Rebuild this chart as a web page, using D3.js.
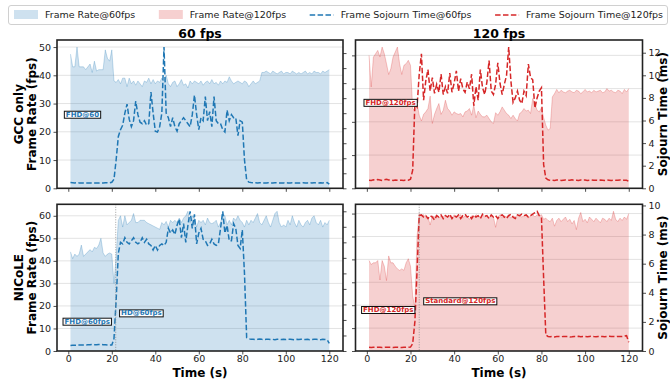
<!DOCTYPE html>
<html>
<head>
<meta charset="utf-8">
<script src="https://cdn.jsdelivr.net/npm/d3@7"></script>
<style>
  body { margin: 0; background: #fff; }
  svg { font-family: "DejaVu Sans", sans-serif; }
</style>
</head>
<body>
<div id="chart"></div>
<script>
// sample times (s)
const time = d3.range(1, 121);

// GCC only, 60 fps
const gccFps60 = [
  47.5, 43, 43, 50, 43, 43, 43, 42, 43, 44,
  41, 45, 41.5, 42, 42, 42, 49, 46, 45, 49,
  38, 37.5, 38.5, 37, 39, 39, 36, 39, 37, 38,
  36.5, 38, 37, 36, 38, 37.5, 39, 37, 38.5, 37,
  38, 37.5, 39, 38, 40, 37, 36, 37.5, 38, 36,
  37, 38.5, 36.5, 37, 35.5, 38, 37, 38, 37.5, 37,
  38, 36.5, 37.5, 38, 37, 38.5, 37, 37.5, 36.5, 38,
  37, 38, 37.5, 39.5, 38, 37, 37.5, 38, 37.5, 37,
  38, 37.5, 36, 37, 38, 37, 37.5, 38, 41, 41,
  41.5, 41, 40.5, 41.5, 41, 40.5, 41, 41.5, 40.5, 41,
  41, 40.5, 41.5, 41, 40.5, 41, 40.5, 41, 41.5, 40.5,
  41, 40.5, 41.5, 41, 41, 40.5, 41.5, 41, 41.5, 42
];
const gccSoj60 = [
  0.38, 0.37, 0.36, 0.37, 0.36, 0.35, 0.36, 0.35, 0.35, 0.36,
  0.35, 0.35, 0.35, 0.35, 0.36, 0.36, 0.37, 0.37, 0.36, 0.40,
  0.6, 1.9, 3.45, 3.9, 4.2, 5.0, 5.6, 4.6, 4.1, 4.5,
  5.8, 4.9, 4.4, 4.3, 4.5, 4.2, 4.3, 6.4, 5.0, 3.8,
  3.75, 4.1, 5.0, 9.4, 5.0, 4.7, 4.1, 4.7, 4.1, 3.8,
  4.3, 4.5, 4.7, 4.5, 4.3, 4.1, 4.9, 6.2, 4.9, 3.9,
  4.7, 4.5, 6.1, 4.5, 5.1, 4.1, 6.1, 4.5, 4.3, 4.3,
  3.9, 3.75, 5.2, 4.5, 4.9, 4.7, 4.7, 3.5, 4.5, 4.4,
  1.9, 0.56, 0.41, 0.38, 0.37, 0.37, 0.36, 0.37, 0.36, 0.36,
  0.36, 0.37, 0.36, 0.36, 0.37, 0.36, 0.36, 0.35, 0.36, 0.37,
  0.36, 0.36, 0.37, 0.36, 0.36, 0.35, 0.36, 0.37, 0.36, 0.36,
  0.37, 0.36, 0.37, 0.36, 0.36, 0.37, 0.36, 0.37, 0.38, 0.28
];

// GCC only, 120 fps
const gccFps120 = [
  80, 61, 79, 81, 83, 79, 85, 81, 75, 68.5,
  72, 79, 82, 85, 75, 68.5, 74, 75, 77, 74,
  48, 46.5, 51, 44, 40.5, 44.5, 46, 48, 55.5, 39,
  44.5, 48, 51, 44.5, 47, 53, 48, 46.5, 44, 46,
  45, 44.5, 45, 43, 46, 46.5, 48, 44, 50, 42.5,
  46.5, 44.5, 43, 43, 44, 42, 40, 39, 45.5, 44,
  46, 49, 47, 45, 44, 42, 44, 42, 40.5, 45,
  46, 48, 46.5, 47, 45, 54, 51, 47, 46, 48.5,
  42.5, 38, 35, 36, 55, 57, 59.5, 57.5, 59, 58,
  57.5, 58.5, 59, 58, 57.5, 59, 58.5, 57, 58, 59.5,
  58, 58.5, 57.5, 59, 58, 58.5, 59, 57.5, 58, 60,
  58.5, 59, 58, 57.5, 59, 58.5, 57, 59.5, 58, 60
];
const gccSoj120 = [
  0.72, 0.70, 0.75, 0.72, 0.78, 0.74, 0.70, 0.76, 0.80, 0.74,
  0.72, 0.70, 0.74, 0.72, 0.70, 0.72, 0.70, 0.74, 0.72, 0.80,
  1.6, 7.5, 7.2, 10.1, 11.9, 7.8, 9.5, 10.5, 8.6, 9.8,
  8.4, 9.2, 8.5, 10.1, 8.3, 9.0, 8.4, 10.2, 8.5, 9.3,
  10.4, 8.6, 9.7, 8.8, 8.5, 9.4, 8.8, 10.1, 7.3, 9.0,
  7.8, 10.5, 8.9, 8.3, 9.4, 11.3, 8.6, 8.3, 9.2, 11.1,
  9.3, 8.3, 9.2, 10.0, 12.5, 9.5, 7.6, 8.0, 8.6, 7.8,
  7.5, 8.6, 8.2, 11.0, 9.8, 9.6, 7.1, 8.0, 8.6, 8.9,
  2.1, 0.9, 0.75, 0.7, 0.72, 0.70, 0.74, 0.72, 0.70, 0.72,
  0.74, 0.70, 0.72, 0.75, 0.71, 0.72, 0.70, 0.74, 0.72, 0.73,
  0.70, 0.72, 0.74, 0.71, 0.72, 0.70, 0.73, 0.72, 0.70, 0.74,
  0.72, 0.70, 0.73, 0.71, 0.72, 0.74, 0.70, 0.72, 0.71, 0.62
];

// NICoLE, 60 fps
const nicFps60 = [
  44, 41, 43, 42, 43, 47, 42, 43, 44, 45,
  44, 46, 45.5, 47, 50, 43.5, 42, 43, 43.5, 43,
  30, 42, 58, 60, 55, 60, 56, 57, 58, 61,
  57, 57, 58, 58, 58, 57, 56.5, 56, 55.5, 55,
  54.5, 54, 57, 56, 57.5, 55, 58, 57, 58, 57,
  59, 57, 59, 60, 62, 57, 60, 59, 55, 58,
  57, 58, 56, 59, 57, 56.5, 57, 58, 55, 57,
  61, 60, 56, 58, 56, 59, 58, 60, 58, 57,
  55, 58, 56, 58, 57, 59, 61, 57, 56, 58,
  60, 57, 55, 58, 61, 62, 57, 55, 56, 55,
  58, 56, 60, 57, 55, 58, 56, 55, 57, 58,
  56, 59, 60, 57, 56, 58, 55, 57, 56, 58
];
const nicSoj60 = [
  0.36, 0.37, 0.37, 0.38, 0.38, 0.39, 0.39, 0.39, 0.40, 0.41,
  0.42, 0.41, 0.41, 0.42, 0.42, 0.41, 0.40, 0.39, 0.38, 0.38,
  0.8, 3.3, 6.3, 7.0, 6.9, 7.3, 7.0, 6.9, 7.1, 7.3,
  7.0, 6.9, 7.0, 7.3, 7.0, 7.2, 6.9, 6.8, 6.5, 6.8,
  6.5, 6.8, 6.9, 6.8, 7.0, 7.9, 7.6, 7.8, 7.5, 8.1,
  8.5, 7.3, 8.2, 7.0, 8.1, 9.0, 7.9, 8.8, 6.9, 7.6,
  7.9, 7.2, 7.1, 6.8, 6.9, 7.2, 6.9, 6.8, 6.9, 7.9,
  9.0, 7.6, 8.1, 7.1, 7.1, 8.2, 7.9, 6.8, 6.6, 7.8,
  5.0, 0.86, 0.79, 0.75, 0.76, 0.74, 0.75, 0.77, 0.75, 0.74,
  0.75, 0.76, 0.74, 0.75, 0.73, 0.75, 0.76, 0.74, 0.75, 0.74,
  0.76, 0.75, 0.74, 0.73, 0.75, 0.74, 0.76, 0.75, 0.74, 0.75,
  0.73, 0.74, 0.75, 0.76, 0.74, 0.73, 0.75, 0.74, 0.72, 0.49
];

// NICoLE, 120 fps
const nicFps120 = [
  79, 75.5, 77, 77, 79, 62, 79, 74, 61.5, 83,
  77, 77, 74, 71.7, 70.4, 71.7, 70.4, 77, 80.6, 74,
  48, 38, 100, 120, 118, 119, 116, 117, 110, 118,
  117, 119, 116, 118, 117, 119, 117, 118, 116, 119,
  117, 118, 119, 116, 118, 117, 115, 118, 117, 119,
  118, 116, 119, 117, 118, 116, 118, 117, 108, 117,
  119, 116, 118, 117, 119, 116, 118, 117, 119, 118,
  117, 118, 119, 116, 118, 119, 117, 119, 118, 119,
  115, 116, 114, 113, 116, 109, 114, 116, 113, 115,
  117, 113, 115, 111, 114, 106, 116, 121, 113, 115,
  112, 117, 115, 113, 116, 114, 112, 116, 115, 113,
  116, 114, 122, 115, 113, 116, 114, 117, 115, 120
];
const nicSoj120 = [
  0.26, 0.24, 0.25, 0.25, 0.26, 0.25, 0.24, 0.25, 0.26, 0.25,
  0.25, 0.24, 0.25, 0.26, 0.25, 0.24, 0.25, 0.25, 0.26, 0.27,
  0.5, 2.0, 5.5, 9.3, 9.35, 9.2, 9.3, 9.1, 9.3, 9.2,
  9.0, 9.3, 9.2, 9.35, 9.1, 9.3, 9.2, 9.4, 9.1, 9.3,
  9.2, 9.35, 9.1, 9.3, 9.4, 9.2, 9.3, 9.1, 9.35, 9.2,
  9.3, 9.1, 9.4, 9.25, 9.3, 9.1, 9.35, 9.2, 9.3, 9.1,
  9.3, 9.35, 9.2, 9.1, 9.3, 9.4, 9.2, 9.1, 9.35, 9.3,
  9.4, 9.3, 9.35, 9.2, 9.3, 9.4, 9.5, 9.6, 9.3, 9.2,
  5.0, 1.1, 1.0, 0.98, 1.0, 0.97, 0.99, 1.0, 0.98, 1.0,
  0.99, 1.0, 0.97, 0.98, 1.0, 0.99, 1.01, 0.98, 1.0, 0.99,
  0.98, 1.0, 1.01, 0.99, 0.98, 1.0, 0.99, 1.0, 0.98, 1.0,
  1.01, 0.99, 1.0, 0.98, 1.0, 0.99, 1.0, 1.02, 1.05, 0.6
];

// tick values
const timeTicks = [0, 20, 40, 60, 80, 100, 120];
const fpsTicks60Top = [0, 10, 20, 30, 40, 50];
const fpsTicks60Bottom = [0, 10, 20, 30, 40, 50, 60];
const fpsTicks120Top = [0, 20, 40, 60, 80];
const fpsTicks120Bottom = [0, 20, 40, 60, 80, 100, 120];
const sojTicks60 = [0, 1, 2, 3, 4, 5, 6, 7, 8, 9];
const sojTicks120Top = [0, 2, 4, 6, 8, 10, 12];
const sojTicks120Bottom = [0, 2, 4, 6, 8, 10];

const colTitles = ['60 fps', '120 fps'];
const rowNames = ['GCC only', 'NICoLE'];
const legendNames = ['Frame Rate@60fps', 'Frame Rate@120fps', 'Frame Sojourn Time@60fps', 'Frame Sojourn Time@120fps'];

// resolution labels: panel index, time, frame-rate level
const notes = [
  { p: 0, t: 6.5, v: 26.2, text: 'FHD@60' },
  { p: 1, t: 10.9, v: 51.7, text: 'FHD@120fps' },
  { p: 2, t: 8.7, v: 13.2, text: 'FHD@60fps' },
  { p: 2, t: 33.6, v: 16.9, text: 'HD@60fps' },
  { p: 3, t: 9.8, v: 36.2, text: 'FHD@120fps' },
  { p: 3, t: 42.8, v: 43.8, text: 'Standard@120fps' }
];
// resolution switch instants
const switches = [{ p: 2, t: 21.8 }, { p: 3, t: 24 }];

const BLUE = '#1f77b4', RED = '#d62728';
const W = 670, H = 379;

const cols = [{ x0: 57, x1: 343 }, { x0: 355.5, x1: 642.5 }];
const rows = [{ y0: 40, y1: 188.3 }, { y0: 204.3, y1: 351 }];

const panels = [
  { r: 0, c: 0, fps: gccFps60, soj: gccSoj60, color: BLUE, fpsTicks: fpsTicks60Top, sojTicks: sojTicks60 },
  { r: 0, c: 1, fps: gccFps120, soj: gccSoj120, color: RED, fpsTicks: fpsTicks120Top, sojTicks: sojTicks120Top },
  { r: 1, c: 0, fps: nicFps60, soj: nicSoj60, color: BLUE, fpsTicks: fpsTicks60Bottom, sojTicks: sojTicks60 },
  { r: 1, c: 1, fps: nicFps120, soj: nicSoj120, color: RED, fpsTicks: fpsTicks120Bottom, sojTicks: sojTicks120Bottom }
];

const svg = d3.select('#chart').append('svg')
  .attr('width', W)
  .attr('height', H);

panels.forEach((p, i) => {
  const col = cols[p.c], row = rows[p.r];
  const x = d3.scaleLinear().domain([-5.2, 126.3]).range([col.x0, col.x1]);
  const y = d3.scaleLinear().domain([0, d3.max(p.fps) * 1.05]).range([row.y1, row.y0]);
  const y2 = d3.scaleLinear().domain([0, d3.max(p.soj) * 1.05]).range([row.y1, row.y0]);
  const g = svg.append('g');

  // grid
  g.selectAll('.grid')
    .data(p.fpsTicks.filter(d => d > 0))
    .enter().append('line')
    .attr('x1', col.x0).attr('x2', col.x1)
    .attr('y1', d => y(d)).attr('y2', d => y(d))
    .attr('stroke', '#e3e3e3')
    .attr('stroke-width', 1);

  // frame rate area
  const area = d3.area().x((d, j) => x(time[j])).y0(y(0)).y1(d => y(d));
  const top = d3.line().x((d, j) => x(time[j])).y(d => y(d));
  g.append('path').attr('d', area(p.fps))
    .attr('fill', p.color).attr('fill-opacity', 0.22);
  g.append('path').attr('d', top(p.fps))
    .attr('fill', 'none').attr('stroke', p.color)
    .attr('stroke-opacity', 0.25).attr('stroke-width', 1);

  // sojourn time
  const line = d3.line().x((d, j) => x(time[j])).y(d => y2(d));
  g.append('path').attr('d', line(p.soj))
    .attr('fill', 'none').attr('stroke', p.color)
    .attr('stroke-width', 1.5).attr('stroke-dasharray', '5.5,2.4');

  // switch markers
  switches.filter(s => s.p === i).forEach(s => {
    g.append('line')
      .attr('x1', x(s.t)).attr('x2', x(s.t))
      .attr('y1', row.y0).attr('y2', row.y1)
      .attr('stroke', '#888').attr('stroke-width', 0.8)
      .attr('stroke-dasharray', '1,1.5');
  });

  // resolution labels
  notes.filter(n => n.p === i).forEach(n => {
    const t = g.append('text')
      .attr('x', x(n.t)).attr('y', y(n.v))
      .attr('dy', '0.35em')
      .attr('text-anchor', 'middle')
      .attr('font-size', 7)
      .attr('font-weight', 'bold')
      .attr('fill', p.color)
      .text(n.text);
    const b = t.node().getBBox();
    g.insert('rect', () => t.node())
      .attr('x', b.x - 1.5).attr('y', b.y + 0.5)
      .attr('width', b.width + 3).attr('height', b.height - 1)
      .attr('fill', '#fff').attr('stroke', '#111').attr('stroke-width', 1);
  });

  // frame
  g.append('rect')
    .attr('x', col.x0).attr('y', row.y0)
    .attr('width', col.x1 - col.x0).attr('height', row.y1 - row.y0)
    .attr('fill', 'none').attr('stroke', '#222').attr('stroke-width', 1.6);

  // axes
  const ax = g.append('g').attr('transform', `translate(0,${row.y1})`)
    .call(d3.axisBottom(x).tickValues(timeTicks).tickSize(3.5).tickPadding(1).tickSizeOuter(0)
      .tickFormat(p.r === 1 ? d3.format('d') : ''));
  const ay = g.append('g').attr('transform', `translate(${col.x0},0)`)
    .call(d3.axisLeft(y).tickValues(p.fpsTicks).tickSize(3.5).tickPadding(2.5).tickSizeOuter(0)
      .tickFormat(p.c === 0 ? d3.format('d') : ''));
  const ay2 = g.append('g').attr('transform', `translate(${col.x1},0)`)
    .call(d3.axisRight(y2).tickValues(p.sojTicks).tickSize(3.5).tickPadding(2.5).tickSizeOuter(0)
      .tickFormat(p.c === 1 ? d3.format('d') : ''));
  [ax, ay, ay2].forEach(a => {
    a.select('.domain').remove();
    a.selectAll('line').attr('stroke', '#222').attr('stroke-width', 0.8);
    a.selectAll('text').attr('font-size', 9.5).attr('fill', '#222')
      .attr('font-family', '"DejaVu Sans", sans-serif');
  });
});

// column titles and x labels
cols.forEach((col, c) => {
  const cx = (col.x0 + col.x1) / 2;
  svg.append('text').attr('x', cx).attr('y', 37.5)
    .attr('text-anchor', 'middle').attr('font-size', 12.5).attr('font-weight', 'bold')
    .text(colTitles[c]);
  svg.append('text').attr('x', cx).attr('y', 376.5)
    .attr('text-anchor', 'middle').attr('font-size', 12).attr('font-weight', 'bold')
    .text('Time (s)');
});

// row labels
rows.forEach((row, r) => {
  const cy = (row.y0 + row.y1) / 2;
  svg.append('text')
    .attr('transform', `translate(22.5,${cy}) rotate(-90)`)
    .attr('text-anchor', 'middle').attr('font-size', 12).attr('font-weight', 'bold')
    .text(rowNames[r]);
  svg.append('text')
    .attr('transform', `translate(35.5,${cy}) rotate(-90)`)
    .attr('text-anchor', 'middle').attr('font-size', 12).attr('font-weight', 'bold')
    .text('Frame Rate (fps)');
  svg.append('text')
    .attr('transform', `translate(667,${cy}) rotate(-90)`)
    .attr('text-anchor', 'middle').attr('font-size', 12).attr('font-weight', 'bold')
    .text('Sojourn Time (ms)');
});

// legend
const lg = svg.append('g');
lg.append('rect')
  .attr('x', 8.5).attr('y', 5.5).attr('width', 659).attr('height', 19)
  .attr('rx', 2.5).attr('fill', '#fff').attr('stroke', '#d0d0d0');
const legendColors = [BLUE, RED, BLUE, RED];
const items = legendNames.map((name, k) => {
  const it = lg.append('g');
  if (k < 2) {
    it.append('rect').attr('x', 0).attr('y', -5).attr('width', 24).attr('height', 9)
      .attr('fill', legendColors[k]).attr('fill-opacity', 0.22);
  } else {
    it.append('line').attr('x1', 0).attr('x2', 24).attr('y1', 0).attr('y2', 0)
      .attr('stroke', legendColors[k]).attr('stroke-width', 1.5)
      .attr('stroke-dasharray', '5.5,2.4');
  }
  const tx = it.append('text').attr('x', 31).attr('y', 3.4)
    .attr('font-size', 9.5).attr('fill', '#222').text(name);
  return { g: it, w: 31 + tx.node().getComputedTextLength() };
});
const total = d3.sum(items, d => d.w);
const gap = (668 - 14 - 5 - total) / (items.length - 1);
let lx = 14;
items.forEach(it => {
  it.g.attr('transform', `translate(${lx},15)`);
  lx += it.w + gap;
});
</script>
</body>
</html>
